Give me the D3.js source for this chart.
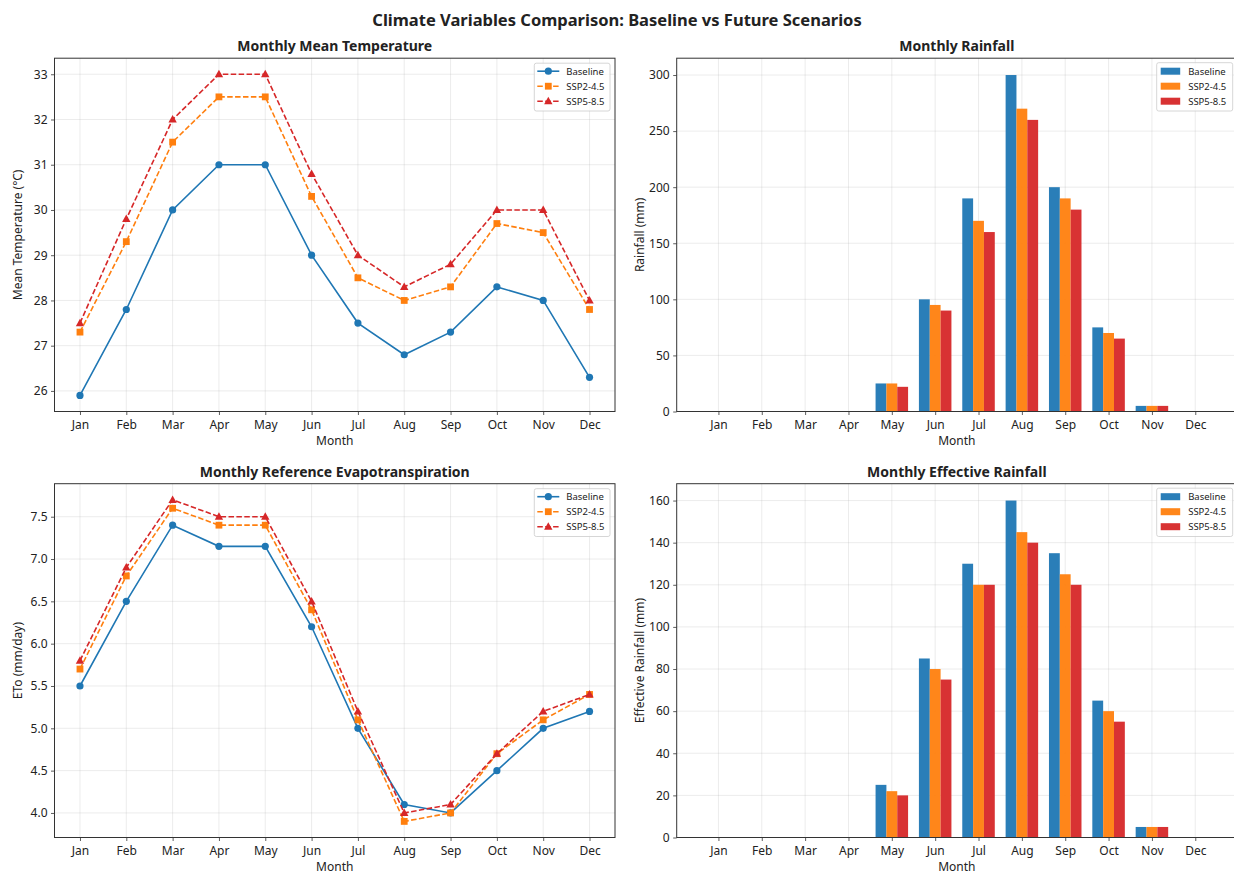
<!DOCTYPE html>
<html><head><meta charset="utf-8">
<script src="https://cdn.jsdelivr.net/npm/d3@7"></script>
<style>body{margin:0;background:#fff;} text{font-family:"Noto Sans","Open Sans",sans-serif;fill:#222;}</style>
</head><body><svg id="c" width="1234" height="874"></svg>
<script>
const months = ["Jan","Feb","Mar","Apr","May","Jun","Jul","Aug","Sep","Oct","Nov","Dec"];
const seriesNames = ["Baseline","SSP2-4.5","SSP5-8.5"];
const colors = ["#1f77b4","#ff7f0e","#d62728"];

const tempBaseline = [25.9,27.8,30.0,31.0,31.0,29.0,27.5,26.8,27.3,28.3,28.0,26.3];
const tempSSP245   = [27.3,29.3,31.5,32.5,32.5,30.3,28.5,28.0,28.3,29.7,29.5,27.8];
const tempSSP585   = [27.5,29.8,32.0,33.0,33.0,30.8,29.0,28.3,28.8,30.0,30.0,28.0];

const rainBaseline = [0,0,0,0,25,100,190,300,200,75,5,0];
const rainSSP245   = [0,0,0,0,25,95,170,270,190,70,5,0];
const rainSSP585   = [0,0,0,0,22,90,160,260,180,65,5,0];

const etoBaseline = [5.5,6.5,7.4,7.15,7.15,6.2,5.0,4.1,4.0,4.5,5.0,5.2];
const etoSSP245   = [5.7,6.8,7.6,7.4,7.4,6.4,5.1,3.9,4.0,4.7,5.1,5.4];
const etoSSP585   = [5.8,6.9,7.7,7.5,7.5,6.5,5.2,4.0,4.1,4.7,5.2,5.4];

const effBaseline = [0,0,0,0,25,85,130,160,135,65,5,0];
const effSSP245   = [0,0,0,0,22,80,120,145,125,60,5,0];
const effSSP585   = [0,0,0,0,20,75,120,140,120,55,5,0];

const tempTicks = [26,27,28,29,30,31,32,33];
const rainTicks = [0,50,100,150,200,250,300];
const etoTicks = [4.0,4.5,5.0,5.5,6.0,6.5,7.0,7.5];
const effTicks = [0,20,40,60,80,100,120,140,160];

const svg = d3.select("#c");
svg.append("text").attr("x",617).attr("y",26).attr("text-anchor","middle")
  .style("font-size","16.5px").style("font-weight","bold").text("Climate Variables Comparison: Baseline vs Future Scenarios");

const LX=[54.5,615], RX=[676.7,1237], TY=[58.2,411.5], BY=[483.7,837.5];

function padDomain(vals){const mn=d3.min(vals),mx=d3.max(vals),m=(mx-mn)*0.05;return [mn-m,mx+m];}

function frame(xr,yr,x,y,yTicks,yFmt,title,ylabel,xTickVals){
  const g=svg.append("g");
  g.selectAll(null).data(xTickVals).join("line").attr("x1",d=>x(d)).attr("x2",d=>x(d))
    .attr("y1",yr[0]).attr("y2",yr[1]).attr("stroke","#b0b0b0").attr("stroke-opacity",0.3).attr("stroke-width",0.8);
  g.selectAll(null).data(yTicks).join("line").attr("y1",d=>y(d)).attr("y2",d=>y(d))
    .attr("x1",xr[0]).attr("x2",xr[1]).attr("stroke","#b0b0b0").attr("stroke-opacity",0.3).attr("stroke-width",0.8);
  svg.append("text").attr("x",(xr[0]+xr[1])/2).attr("y",yr[0]-7).attr("text-anchor","middle")
    .style("font-size","14px").style("font-weight","bold").text(title);
  svg.append("text").attr("x",(xr[0]+xr[1])/2).attr("y",yr[1]+33).attr("text-anchor","middle")
    .style("font-size","12px").text("Month");
  svg.append("text").attr("transform",`translate(${xr[0]-33},${(yr[0]+yr[1])/2}) rotate(-90)`).attr("text-anchor","middle")
    .style("font-size","12px").text(ylabel);
  return g;
}
function axesDraw(xr,yr,x,y,yTicks,yFmt,xTickVals){
  const ga=svg.append("g");
  const xa=ga.append("g").attr("transform",`translate(0,${yr[1]})`)
    .call(d3.axisBottom(x).tickValues(xTickVals).tickFormat(i=>months[i]).tickSize(3.5).tickPadding(5));
  const ya=ga.append("g").attr("transform",`translate(${xr[0]},0)`)
    .call(d3.axisLeft(y).tickValues(yTicks).tickFormat(yFmt).tickSize(3.5).tickPadding(3.5));
  [xa,ya].forEach(a=>{a.select(".domain").remove();a.selectAll("line").attr("stroke","#333").attr("stroke-width",0.8);
    a.selectAll("text").style("font-size","12px").style("font-family","'Noto Sans',sans-serif").attr("fill","#222");});
  ga.append("rect").attr("x",xr[0]).attr("y",yr[0]).attr("width",xr[1]-xr[0]).attr("height",yr[1]-yr[0])
    .attr("fill","none").attr("stroke","#333").attr("stroke-width",1);
}

function marker(g,type,cx,cy,color){
  if(type===0) g.append("circle").attr("cx",cx).attr("cy",cy).attr("r",3.6).attr("fill",color);
  else if(type===1) g.append("rect").attr("x",cx-3.4).attr("y",cy-3.4).attr("width",6.8).attr("height",6.8).attr("fill",color);
  else g.append("path").attr("d",`M${cx},${cy-4.4}L${cx+4.2},${cy+3.1}L${cx-4.2},${cy+3.1}Z`).attr("fill",color);
}

function linePanel(xr,yr,seriesArr,yTicks,yFmt,title,ylabel){
  const idx=d3.range(12);
  const x=d3.scaleLinear().domain([-0.55,11.55]).range(xr);
  const y=d3.scaleLinear().domain(padDomain(seriesArr.flat())).range([yr[1],yr[0]]);
  const g=frame(xr,yr,x,y,yTicks,yFmt,title,ylabel,idx);
  const line=d3.line().x((d,i)=>x(i)).y(d=>y(d));
  seriesArr.forEach((s,k)=>{
    g.append("path").attr("d",line(s)).attr("fill","none").attr("stroke",colors[k]).attr("stroke-width",1.6)
      .attr("stroke-dasharray",k===0?null:"5.5,2.4");
    s.forEach((v,i)=>marker(g,k,x(i),y(v),colors[k]));
  });
  axesDraw(xr,yr,x,y,yTicks,yFmt,idx);
  const lx=xr[1]-80.7, ly=yr[0]+5;
  const lg=svg.append("g");
  lg.append("rect").attr("x",lx).attr("y",ly).attr("width",75.7).attr("height",47.8).attr("rx",2)
    .attr("fill","#fff").attr("fill-opacity",0.8).attr("stroke","#ccc").attr("stroke-width",0.8);
  seriesNames.forEach((n,k)=>{
    const yy=ly+8+k*15;
    lg.append("line").attr("x1",lx+3).attr("x2",lx+25).attr("y1",yy).attr("y2",yy).attr("stroke",colors[k]).attr("stroke-width",1.6)
      .attr("stroke-dasharray",k===0?null:"5.5,2.4");
    marker(lg,k,lx+14,yy,colors[k]);
    lg.append("text").attr("x",lx+32).attr("y",yy+3.4).style("font-size","9.5px").text(n);
  });
}

function barPanel(xr,yr,seriesArr,yTicks,yFmt,title,ylabel){
  const idx=d3.range(12);
  const w=0.25;
  const x=d3.scaleLinear().domain([-0.9625,11.9625]).range(xr);
  const ymax=d3.max(seriesArr.flat());
  const y=d3.scaleLinear().domain([0,ymax*1.05]).range([yr[1],yr[0]]);
  const g=frame(xr,yr,x,y,yTicks,yFmt,title,ylabel,idx);
  seriesArr.forEach((s,k)=>{
    g.selectAll(null).data(s).join("rect")
      .attr("x",(d,i)=>x(i+(k-1)*w-w/2)).attr("width",x(w)-x(0))
      .attr("y",d=>y(d)).attr("height",d=>y(0)-y(d))
      .attr("fill",colors[k]).attr("fill-opacity",0.95);
  });
  axesDraw(xr,yr,x,y,yTicks,yFmt,idx);
  const lx=1156.7, ly=yr[0]+4.5;
  const lg=svg.append("g");
  lg.append("rect").attr("x",lx).attr("y",ly).attr("width",76).attr("height",48.3).attr("rx",2)
    .attr("fill","#fff").attr("fill-opacity",0.8).attr("stroke","#ccc").attr("stroke-width",0.8);
  seriesNames.forEach((n,k)=>{
    const yy=ly+8.5+k*15;
    lg.append("rect").attr("x",lx+4).attr("y",yy-3.5).attr("width",19.5).attr("height",7).attr("fill",colors[k]).attr("fill-opacity",0.95);
    lg.append("text").attr("x",lx+31.5).attr("y",yy+3.4).style("font-size","9.5px").text(n);
  });
}

linePanel(LX,TY,[tempBaseline,tempSSP245,tempSSP585],tempTicks,d3.format("d"),"Monthly Mean Temperature","Mean Temperature (°C)");
barPanel(RX,TY,[rainBaseline,rainSSP245,rainSSP585],rainTicks,d3.format("d"),"Monthly Rainfall","Rainfall (mm)");
linePanel(LX,BY,[etoBaseline,etoSSP245,etoSSP585],etoTicks,d3.format(".1f"),"Monthly Reference Evapotranspiration","ETo (mm/day)");
barPanel(RX,BY,[effBaseline,effSSP245,effSSP585],effTicks,d3.format("d"),"Monthly Effective Rainfall","Effective Rainfall (mm)");
</script></body></html>
